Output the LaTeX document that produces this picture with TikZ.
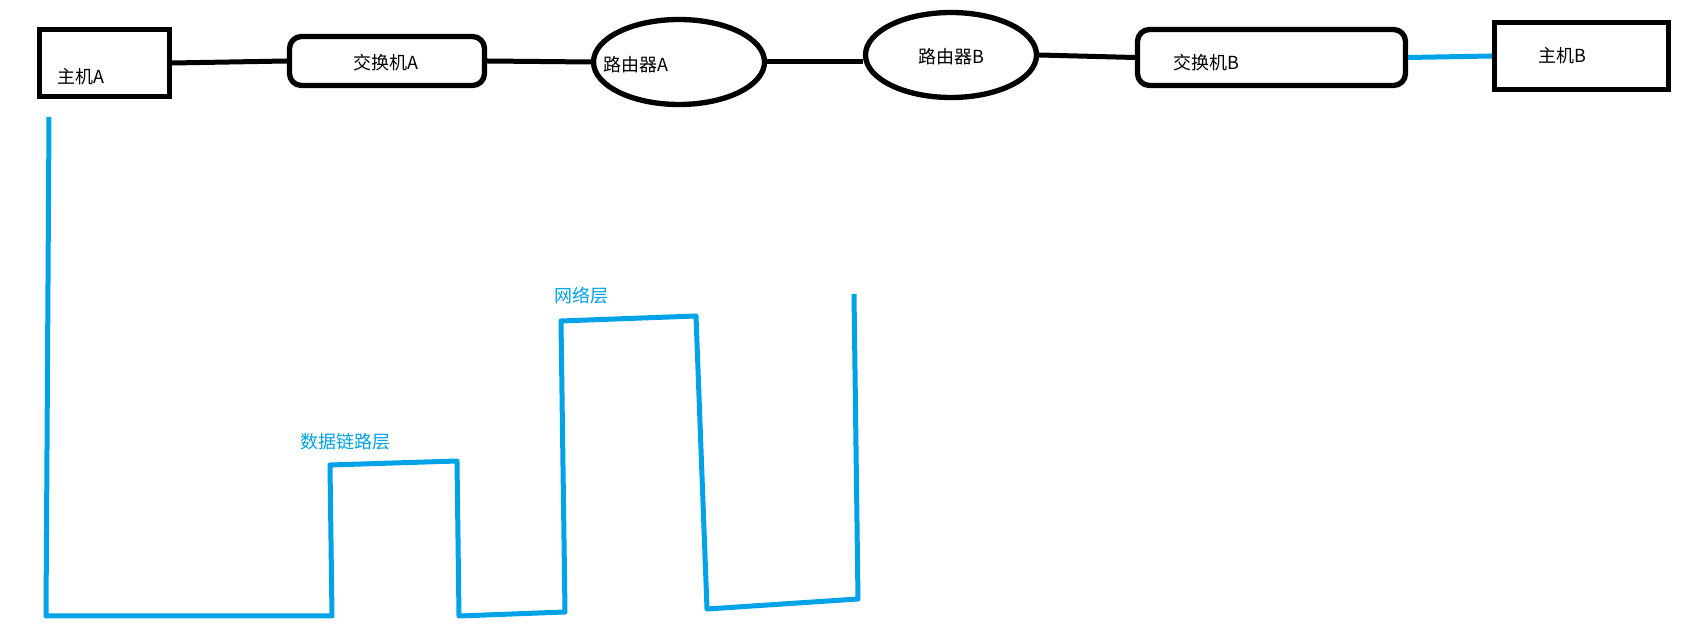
\documentclass[tikz,border=0pt]{standalone}
\usepackage{fontspec}
\setmainfont{Noto Sans CJK SC}
\usetikzlibrary{shapes.geometric}
\definecolor{paintblue}{HTML}{00A2E8}
\begin{document}
\begin{tikzpicture}[x=0.75pt, y=-0.75pt,
		box/.style={draw, line width=4pt, inner sep=0pt},
		host/.style={box, rectangle, minimum width=#1, minimum height=50.25pt},
		switch/.style={box, rectangle, rounded corners=9pt, minimum width=#1},
		router/.style={box, ellipse, minimum width=128.25pt, minimum height=63.75pt},
		link/.style={line width=3.75pt},
		lbl/.style={font=\fontsize{13.5pt}{15pt}\selectfont, inner sep=0pt},
		layer/.style={paintblue, line width=3.75pt, line join=round}]
	\useasboundingbox (0,0) rectangle (1697,630);

	\node[host=97.5pt] (hostA) at (104.5,63) {};
	\node[switch=146.25pt, minimum height=36.75pt] (swA) at (387,61) {};
	\node[router] (routerA) at (679,62) {};
	\node[router] (routerB) at (951,55) {};
	\node[switch=201pt, minimum height=42pt] (swB) at (1271.5,57.5) {};
	\node[host=130.5pt] (hostB) at (1581.5,56) {};

	\node[lbl] (hostA text) at (81,77) {主机A};
	\node[lbl] (swA text) at (386,63) {交换机A};
	\node[lbl] (routerA text) at (636,65) {路由器A};
	\node[lbl] (routerB text) at (951,57) {路由器B};
	\node[lbl] (swB text) at (1206,63) {交换机B};
	\node[lbl] (hostB text) at (1562,56) {主机B};

	\draw[link] (hostA.east) -- (swA.west);
	\draw[link] (swA.east) -- (routerA.west);
	\draw[link] (routerA.east) -- (routerA.east -| routerB.west);
	\draw[link] (routerB.east) -- (swB.west);
	\draw[link, paintblue] (swB.east) -- (hostB.west);

	% path of the data through the layers
	\draw[layer] (49,117) -- (46,616) -- (332,616) -- (330,465) -- (457,461) -- (459,616)
		-- (565,612) -- (561,321) -- (696,316) -- (707,609) -- (858,599) -- (854,294);

	\node[lbl, paintblue] (link layer) at (345,442) {数据链路层};
	\node[lbl, paintblue] (net layer) at (581,296) {网络层};
\end{tikzpicture}
\end{document}
